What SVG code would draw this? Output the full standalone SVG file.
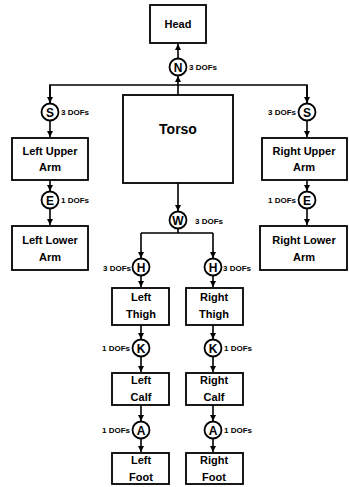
<svg xmlns="http://www.w3.org/2000/svg" width="349" height="487" viewBox="0 0 349 487">
<style>
.box{fill:#fff;stroke:#000;stroke-width:1.8}
.j{fill:#fff;stroke:#000;stroke-width:1.8}
.t{font-family:"Liberation Sans",Arial,sans-serif;font-weight:bold;font-size:11px;text-anchor:middle;fill:#000}
.big{font-size:14px}
.jl{font-family:"Liberation Sans",Arial,sans-serif;font-weight:bold;font-size:12px;text-anchor:middle;fill:#000}
.d{font-family:"Liberation Sans",Arial,sans-serif;font-weight:bold;font-size:8px;fill:#000}
.e{text-anchor:end}
.c{fill:none;stroke:#000;stroke-width:1.6}
</style>
<defs>
<marker id="ah" viewBox="0 0 10 10" refX="10" refY="5" markerWidth="4" markerHeight="4" orient="auto" markerUnits="strokeWidth">
<path d="M0,0 L10,5 L0,10 z" fill="#000"/>
</marker>
</defs>
<g id="connectors">
<path class="c" d="M178,95 V76" marker-end="url(#ah)"/>
<path class="c" d="M178,58 V44" marker-end="url(#ah)"/>
<path class="c" d="M50,104 V85 H307 V104"/>
<path class="c" d="M50,85 V103" marker-end="url(#ah)"/>
<path class="c" d="M307,85 V103" marker-end="url(#ah)"/>
<path class="c" d="M50,121 V137" marker-end="url(#ah)"/>
<path class="c" d="M307,121 V137" marker-end="url(#ah)"/>
<path class="c" d="M50,180 V191" marker-end="url(#ah)"/>
<path class="c" d="M307,180 V191" marker-end="url(#ah)"/>
<path class="c" d="M50,209 V225" marker-end="url(#ah)"/>
<path class="c" d="M307,209 V225" marker-end="url(#ah)"/>
<path class="c" d="M178,183 V211" marker-end="url(#ah)"/>
<path class="c" d="M178,229 V233 H141 M178,233 H213"/>
<path class="c" d="M141,233 V258" marker-end="url(#ah)"/>
<path class="c" d="M213,233 V258" marker-end="url(#ah)"/>
<path class="c" d="M141,276 V287" marker-end="url(#ah)"/>
<path class="c" d="M213,276 V287" marker-end="url(#ah)"/>
<path class="c" d="M141,325 V339" marker-end="url(#ah)"/>
<path class="c" d="M213,325 V339" marker-end="url(#ah)"/>
<path class="c" d="M141,357 V372" marker-end="url(#ah)"/>
<path class="c" d="M213,357 V372" marker-end="url(#ah)"/>
<path class="c" d="M141,405 V421" marker-end="url(#ah)"/>
<path class="c" d="M213,405 V421" marker-end="url(#ah)"/>
<path class="c" d="M141,439 V452" marker-end="url(#ah)"/>
<path class="c" d="M213,439 V452" marker-end="url(#ah)"/>
</g>
<g id="head"><rect class="box" x="150" y="5" width="56" height="38"/><text class="t" x="178" y="28">Head</text></g>
<g id="torso"><rect class="box" x="123" y="95" width="110" height="88"/><text class="t big" x="178" y="134">Torso</text></g>
<g id="neck"><circle class="j" cx="178" cy="67" r="8.5"/><text class="jl" x="178" y="71.5">N</text><text class="d" x="189" y="70">3 DOFs</text></g>
<g id="left-shoulder"><circle class="j" cx="50" cy="112" r="8.5"/><text class="jl" x="50" y="116.5">S</text><text class="d" x="61" y="115">3 DOFs</text></g>
<g id="right-shoulder"><circle class="j" cx="307" cy="112" r="8.5"/><text class="jl" x="307" y="116.5">S</text><text class="d e" x="296" y="115">3 DOFs</text></g>
<g id="left-upper-arm"><rect class="box" x="12" y="138" width="76" height="42"/><text class="t" x="50" y="155">Left Upper</text><text class="t" x="50" y="171">Arm</text></g>
<g id="right-upper-arm"><rect class="box" x="262" y="138" width="85" height="42"/><text class="t" x="304" y="155">Right Upper</text><text class="t" x="304" y="171">Arm</text></g>
<g id="left-elbow"><circle class="j" cx="50" cy="200" r="8.5"/><text class="jl" x="50" y="204.5">E</text><text class="d" x="61" y="203">1 DOFs</text></g>
<g id="right-elbow"><circle class="j" cx="307" cy="200" r="8.5"/><text class="jl" x="307" y="204.5">E</text><text class="d e" x="296" y="203">1 DOFs</text></g>
<g id="left-lower-arm"><rect class="box" x="12" y="226" width="76" height="44"/><text class="t" x="50" y="244">Left Lower</text><text class="t" x="50" y="261">Arm</text></g>
<g id="right-lower-arm"><rect class="box" x="260" y="226" width="87" height="44"/><text class="t" x="304" y="244">Right Lower</text><text class="t" x="304" y="261">Arm</text></g>
<g id="waist"><circle class="j" cx="178" cy="220" r="8.5"/><text class="jl" x="178" y="224.5">W</text><text class="d" x="195" y="224">3 DOFs</text></g>
<g id="left-hip"><circle class="j" cx="141" cy="267" r="8.5"/><text class="jl" x="141" y="271.5">H</text><text class="d e" x="131" y="271">3 DOFs</text></g>
<g id="right-hip"><circle class="j" cx="213" cy="267" r="8.5"/><text class="jl" x="213" y="271.5">H</text><text class="d" x="223" y="271">3 DOFs</text></g>
<g id="left-thigh"><rect class="box" x="112" y="288" width="57" height="37"/><text class="t" x="141" y="301">Left</text><text class="t" x="141" y="318">Thigh</text></g>
<g id="right-thigh"><rect class="box" x="186" y="288" width="57" height="37"/><text class="t" x="214" y="301">Right</text><text class="t" x="214" y="318">Thigh</text></g>
<g id="left-knee"><circle class="j" cx="141" cy="348" r="8.5"/><text class="jl" x="141" y="352.5">K</text><text class="d e" x="130" y="351">1 DOFs</text></g>
<g id="right-knee"><circle class="j" cx="213" cy="348" r="8.5"/><text class="jl" x="213" y="352.5">K</text><text class="d" x="224" y="351">1 DOFs</text></g>
<g id="left-calf"><rect class="box" x="112" y="373" width="57" height="32"/><text class="t" x="141" y="384">Left</text><text class="t" x="141" y="401">Calf</text></g>
<g id="right-calf"><rect class="box" x="186" y="373" width="57" height="32"/><text class="t" x="214" y="384">Right</text><text class="t" x="214" y="401">Calf</text></g>
<g id="left-ankle"><circle class="j" cx="141" cy="430" r="8.5"/><text class="jl" x="141" y="434.5">A</text><text class="d e" x="130" y="433">1 DOFs</text></g>
<g id="right-ankle"><circle class="j" cx="213" cy="430" r="8.5"/><text class="jl" x="213" y="434.5">A</text><text class="d" x="224" y="433">1 DOFs</text></g>
<g id="left-foot"><rect class="box" x="112" y="453" width="57" height="31"/><text class="t" x="141" y="464">Left</text><text class="t" x="141" y="481">Foot</text></g>
<g id="right-foot"><rect class="box" x="186" y="453" width="57" height="31"/><text class="t" x="214" y="464">Right</text><text class="t" x="214" y="481">Foot</text></g>
</svg>
